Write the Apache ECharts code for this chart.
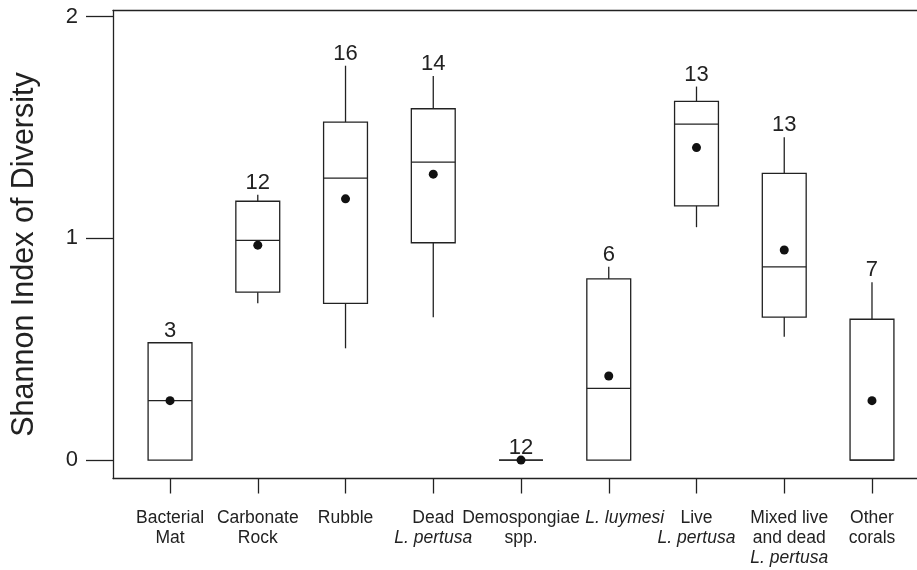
<!DOCTYPE html>
<html>
<head>
<meta charset="utf-8">
<script src="https://cdn.jsdelivr.net/npm/echarts@6/dist/echarts.min.js"></script>
<style>html,body{margin:0;padding:0;background:#fff}#c{width:917px;height:570px}</style>
</head>
<body>
<div id="c"></div>
<script>
const categories = ['Bacterial Mat', 'Carbonate Rock', 'Rubble', 'Dead L. pertusa', 'Demospongiae spp.', 'L. luymesi', 'Live L. pertusa', 'Mixed live and dead L. pertusa', 'Other corals'];
const tickLabels = ['Bacterial\nMat', 'Carbonate\nRock', 'Rubble', 'Dead\n{i|L. pertusa}', 'Demospongiae\nspp.', '{il|L. luymesi}', 'Live\n{i|L. pertusa}', '{m|Mixed live}\n{m|and dead}\n{mi|L. pertusa}', 'Other\ncorals'];
const whiskerLow  = [0,     0.707, 0.504, 0.644, 0, 0,     1.050, 0.556, 0];
const q1          = [0,     0.757, 0.707, 0.980, 0, 0,     1.146, 0.645, 0];
const median      = [0.268, 0.991, 1.271, 1.343, 0, 0.323, 1.515, 0.871, 0];
const q3          = [0.529, 1.167, 1.524, 1.584, 0, 0.817, 1.617, 1.293, 0.635];
const whiskerHigh = [0.529, 1.196, 1.778, 1.732, 0, 0.872, 1.684, 1.456, 0.802];
const means       = [0.268, 0.969, 1.178, 1.289, 0, 0.379, 1.409, 0.947, 0.268];
const counts      = [3, 12, 16, 14, 12, 6, 13, 13, 7];
const yTicks = [0, 1, 2];

const FONT = '"Liberation Sans", Arial, Helvetica, sans-serif';
const INK = '#222';
const idx = categories.map((c, i) => i);

const boxData = idx.map(i => [i, whiskerLow[i], q1[i], median[i], q3[i], whiskerHigh[i], counts[i]]);
const meanData = idx.map(i => [i, means[i]]);

const X_MIN = -0.65, X_MAX = 8.513;
const LBL = 17.5;

const chart = echarts.init(document.getElementById('c'), null, { renderer: 'canvas' });
chart.setOption({
  animation: false,
  backgroundColor: '#fff',
  grid: { left: 113, top: 10.5, right: 0, bottom: 91.5, show: false, containLabel: false, outerBoundsMode: 'none' },
  xAxis: [{
    type: 'value',
    min: X_MIN, max: X_MAX,
    splitLine: { show: false },
    axisLine: { show: true, onZero: false, lineStyle: { color: INK, width: 1.3 } },
    axisTick: { show: true, customValues: idx, length: 15, lineStyle: { color: INK, width: 1.3 } },
    axisLabel: {
      show: true, customValues: idx, margin: 30,
      fontFamily: FONT, fontSize: LBL, color: INK, lineHeight: 20, align: 'center',
      formatter: v => tickLabels[Math.round(v)],
      rich: {
        i: { fontStyle: 'italic', fontFamily: FONT, fontSize: LBL, color: INK, lineHeight: 20 },
        il: { fontStyle: 'italic', fontFamily: FONT, fontSize: LBL, color: INK, lineHeight: 20, padding: [0, 0, 0, 32] },
        m: { fontFamily: FONT, fontSize: LBL, color: INK, lineHeight: 20, padding: [0, 0, 0, 10] },
        mi: { fontStyle: 'italic', fontFamily: FONT, fontSize: LBL, color: INK, lineHeight: 20, padding: [0, 0, 0, 10] }
      }
    }
  }, {
    type: 'value',
    position: 'top',
    min: X_MIN, max: X_MAX,
    splitLine: { show: false },
    axisLine: { show: true, onZero: false, lineStyle: { color: INK, width: 1.3 } },
    axisTick: { show: false },
    axisLabel: { show: false }
  }],
  yAxis: {
    type: 'value',
    min: -0.083, max: 2.027,
    splitLine: { show: false },
    axisLine: { show: true, onZero: false, lineStyle: { color: INK, width: 1.3 } },
    axisTick: { show: true, customValues: yTicks, length: 27, lineStyle: { color: INK, width: 1.3 } },
    axisLabel: { show: true, customValues: yTicks, margin: 35, fontFamily: FONT, fontSize: 22, color: INK },
    name: 'Shannon Index of Diversity',
    nameLocation: 'middle',
    nameGap: 73,
    nameTextStyle: { fontFamily: FONT, fontSize: 30.5, color: INK, padding: [0, 20, 0, 0] }
  },
  series: [
    {
      type: 'custom',
      data: boxData,
      renderItem: function (params, api) {
        const x = api.value(0);
        const pLow = api.coord([x, api.value(1)]);
        const pQ1 = api.coord([x, api.value(2)]);
        const pMed = api.coord([x, api.value(3)]);
        const pQ3 = api.coord([x, api.value(4)]);
        const pHigh = api.coord([x, api.value(5)]);
        const half = api.size([1, 0])[0] * 0.25;
        const cx = pQ1[0];
        const st = { stroke: INK, lineWidth: 1.3, fill: null };
        return {
          type: 'group',
          children: [
            { type: 'line', shape: { x1: cx, y1: pLow[1], x2: cx, y2: pQ1[1] }, style: st },
            { type: 'line', shape: { x1: cx, y1: pQ3[1], x2: cx, y2: pHigh[1] }, style: st },
            { type: 'rect', shape: { x: cx - half, y: pQ3[1], width: half * 2, height: pQ1[1] - pQ3[1] }, style: { stroke: INK, lineWidth: 1.3, fill: 'transparent' } },
            { type: 'line', shape: { x1: cx - half, y1: pMed[1], x2: cx + half, y2: pMed[1] }, style: st },
            { type: 'text', x: cx, y: pHigh[1] - 1, style: { text: String(api.value(6)), fill: INK, font: '22px ' + FONT, textAlign: 'center', textVerticalAlign: 'bottom' } }
          ]
        };
      },
      z: 2
    },
    {
      type: 'scatter',
      data: meanData,
      symbol: 'circle',
      symbolSize: 9,
      itemStyle: { color: '#111', opacity: 1 },
      z: 3
    }
  ]
});
</script>
</body>
</html>
